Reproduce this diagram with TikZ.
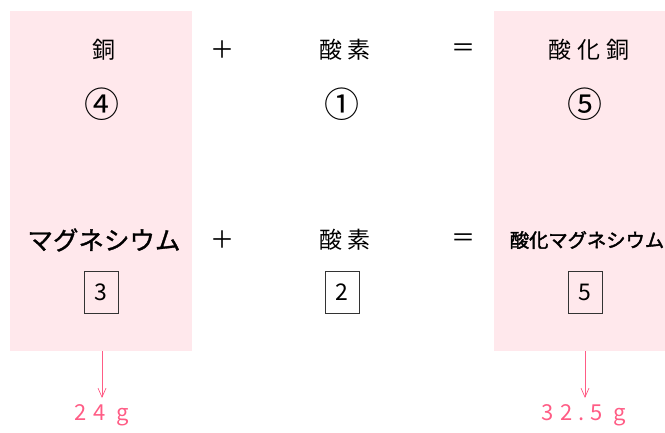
\documentclass[tikz,border=0pt]{standalone}
\usepackage{fontspec}
\usetikzlibrary{arrows.meta}
\setmainfont{Noto Sans CJK JP}
\newfontfamily\spaced[LetterSpace=25]{Noto Sans CJK JP}
\newfontfamily\thick[FakeBold=1.2]{Noto Sans CJK JP}
\newfontfamily\thicker[FakeBold=2]{Noto Sans CJK JP}
\newfontfamily\pinkfont[LetterSpace=28]{Noto Sans CJK JP}
\definecolor{bgpink}{HTML}{FFE8EC}
\definecolor{txtpink}{HTML}{FF5C85}
\begin{document}
\begin{tikzpicture}[x=1pt,y=-1pt,
  lbl/.style={font=\spaced\fontsize{23}{26}\selectfont, inner sep=0pt},
  sign/.style={font=\fontsize{24}{26}\selectfont, inner sep=0pt},
  circ/.style={font=\fontsize{35}{37}\selectfont, inner sep=0pt},
  boxed/.style={draw=black!80, line width=0.8pt, minimum width=34pt, minimum height=42pt, inner sep=0pt, font=\fontsize{23}{25}\selectfont},
  arr/.style={draw=txtpink, line width=0.7pt, -{Straight Barb[length=9pt,width=8pt]}},
  wt/.style={font=\pinkfont\fontsize{22}{24}\selectfont, text=txtpink, inner sep=0pt}]
\useasboundingbox (0,0) rectangle (665,433);
\fill[bgpink] (10,11) rectangle (192,351);
\fill[bgpink] (494,11) rectangle (665,351);
\coordinate (lb) at (102,351);
\coordinate (rb) at (585,351);
% row 1
\node[lbl] (cu) at (104,50) {銅};
\node[circ] (c4) at (102,104) {④};
\node[sign] (p1) at (222,50) {＋};
\node[lbl] (o1) at (345,50) {酸素};
\node[circ] (c1) at (342,104) {①};
\node[sign] (e1) at (463,50) {＝};
\node[lbl] (cuo) at (589,50) {酸化銅};
\node[circ] (c5) at (585,104) {⑤};
% row 2
\node[inner sep=0pt, font=\thick\fontsize{25.5}{28}\selectfont] (mg) at (104,240) {マグネシウム};
\node[sign] (p2) at (222,240) {＋};
\node[lbl] (o2) at (345,240) {酸素};
\node[sign] (e2) at (463,240) {＝};
\node[inner sep=0pt, font=\thicker\fontsize{19.3}{21}\selectfont] (mgo) at (587,240) {酸化マグネシウム};
\node[boxed] (b3) at (101,292) {3};
\node[boxed] (b2) at (342,292) {2};
\node[boxed] (b5) at (585,292) {5};
% arrows
\node[wt] (w1) at (102,415) {24 g};
\node[wt] (w2) at (584,415) {32.5 g};
\coordinate (la) at (102,398);
\coordinate (ra) at (585,398);
\draw[arr] (lb) -- (la);
\draw[arr] (rb) -- (ra);
\end{tikzpicture}
\end{document}
